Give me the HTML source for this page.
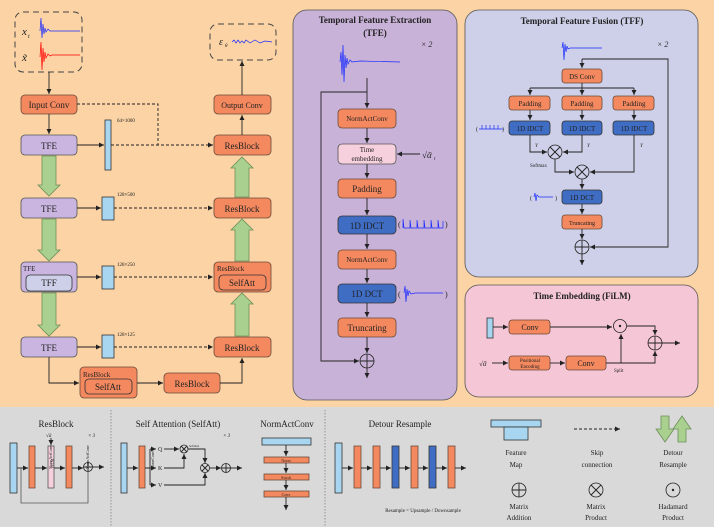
<!DOCTYPE html>
<html><head><meta charset="utf-8"><style>
html,body{margin:0;padding:0;background:#FBD3A5}
svg{display:block}
text{font-family:"Liberation Serif",serif;fill:#222}
.o{fill:#F4895F;stroke:#6b4a3a;stroke-width:.8}
.p{fill:#C9B5DF;stroke:#555;stroke-width:.8}
.b{fill:#3F6DC4;stroke:#333;stroke-width:.8}
.fm{fill:#A8D5EF;stroke:#333;stroke-width:.8}
.pk{fill:#F7D0DE;stroke:#555;stroke-width:.8}
.l{stroke:#222;stroke-width:.9;fill:none}
.d{stroke:#222;stroke-width:.9;fill:none;stroke-dasharray:3,2}
.g{fill:#A9D08E;stroke:#6d8f5a;stroke-width:.8}
.c{fill:none;stroke:#222;stroke-width:.8}
.w{fill:none;stroke:#1a2bff;stroke-width:.7}
</style></head><body>
<svg width="714" height="527" viewBox="0 0 714 527" xmlns="http://www.w3.org/2000/svg">
<defs>
<marker id="a" markerWidth="6" markerHeight="6" refX="5" refY="3" orient="auto" markerUnits="userSpaceOnUse"><path d="M0,0.5 L5,3 L0,5.5z" fill="#222"/></marker>
</defs>
<rect x="0" y="0" width="714" height="405" fill="#FBD3A5"/>
<rect x="0" y="407" width="714" height="120" fill="#D9D9D9"/>

<!-- ===== LEFT ===== -->
<rect x="15" y="12" width="67" height="60" rx="8" fill="none" stroke="#444" stroke-dasharray="6,4"/>
<text x="22" y="35" font-size="11" font-style="italic">x</text><text x="28" y="38" font-size="6" font-style="italic">t</text>
<text x="22" y="61" font-size="11" font-style="italic">x̃</text>
<path class="w" d="M40,31 L41,18 L42,38 L43,24 L44,34 L45,28 L46,32 L48,29 L50,31 L80,31"/>
<path d="M40,57 L41,42 L42,70 L43,48 L44,62 L45,52 L46,58 L48,54 L50,56 L52,55 L80,55" fill="none" stroke="#f00" stroke-width=".7"/>
<rect x="210" y="24" width="66" height="36" rx="8" fill="none" stroke="#444" stroke-dasharray="6,4"/>
<text x="219" y="45" font-size="10" font-style="italic">ε</text><text x="225" y="47" font-size="5" font-style="italic">θ</text>
<path class="w" d="M232,42 L234,40 L236,43 L238,40 L240,43 L242,41 L244,43 L246,40 L250,43 L255,40 L260,43 L265,41 L272,42" stroke-width="1.2"/>

<rect class="o" x="21" y="95" width="56" height="19" rx="4"/><text x="49" y="108" font-size="9" text-anchor="middle">Input Conv</text>
<rect class="p" x="21" y="135" width="56" height="20" rx="4"/><text x="49" y="149" font-size="9" text-anchor="middle">TFE</text>
<rect class="p" x="21" y="198" width="56" height="20" rx="4"/><text x="49" y="212" font-size="9" text-anchor="middle">TFE</text>
<rect class="p" x="21" y="262" width="56" height="30" rx="4"/><text x="23" y="271" font-size="7">TFE</text>
<rect x="26" y="275" width="46" height="16" rx="4" fill="#CDD0E8" stroke="#333" stroke-width=".8"/><text x="49" y="286" font-size="9" text-anchor="middle">TFF</text>
<rect class="p" x="21" y="337" width="56" height="20" rx="4"/><text x="49" y="351" font-size="9" text-anchor="middle">TFE</text>

<rect class="o" x="214" y="95" width="57" height="19" rx="4"/><text x="242" y="108" font-size="8" text-anchor="middle">Output Conv</text>
<rect class="o" x="214" y="135" width="57" height="20" rx="4"/><text x="242" y="149" font-size="9" text-anchor="middle">ResBlock</text>
<rect class="o" x="214" y="198" width="57" height="20" rx="4"/><text x="242" y="212" font-size="9" text-anchor="middle">ResBlock</text>
<rect class="o" x="214" y="262" width="57" height="30" rx="4"/><text x="217" y="271" font-size="7">ResBlock</text>
<rect x="219" y="275" width="47" height="15" rx="4" fill="#F4895F" stroke="#333" stroke-width=".8"/><text x="242" y="286" font-size="9" text-anchor="middle">SelfAtt</text>
<rect class="o" x="214" y="337" width="57" height="20" rx="4"/><text x="242" y="351" font-size="9" text-anchor="middle">ResBlock</text>
<rect class="o" x="80" y="367" width="57" height="31" rx="4"/><text x="83" y="377" font-size="7">ResBlock</text>
<rect x="85" y="379" width="47" height="15" rx="4" fill="#F4895F" stroke="#333" stroke-width=".8"/><text x="108" y="390" font-size="9" text-anchor="middle">SelfAtt</text>
<rect class="o" x="164" y="373" width="56" height="20" rx="4"/><text x="192" y="387" font-size="9" text-anchor="middle">ResBlock</text>

<rect class="fm" x="105" y="120" width="6" height="50"/>
<rect class="fm" x="102" y="197" width="12" height="23"/>
<rect class="fm" x="102" y="266" width="12" height="23"/>
<rect class="fm" x="102" y="335" width="12" height="23"/>
<text x="117" y="122" font-size="5">64×1000</text>
<text x="117" y="196" font-size="5">128×500</text>
<text x="117" y="266" font-size="5">128×250</text>
<text x="117" y="336" font-size="5">128×125</text>

<path class="l" d="M49,72 V94" marker-end="url(#a)"/>
<path class="l" d="M49,114 V134" marker-end="url(#a)"/>
<path class="l" d="M77,145 H104" marker-end="url(#a)"/>
<path class="l" d="M77,208 H101" marker-end="url(#a)"/>
<path class="l" d="M77,277 H101" marker-end="url(#a)"/>
<path class="l" d="M77,347 H101" marker-end="url(#a)"/>
<path class="d" d="M77,104 H158 V145"/>
<path class="d" d="M111,145 H213" marker-end="url(#a)"/>
<path class="d" d="M114,208 H213" marker-end="url(#a)"/>
<path class="d" d="M114,277 H213" marker-end="url(#a)"/>
<path class="d" d="M114,347 H213" marker-end="url(#a)"/>
<path class="l" d="M242,135 V115" marker-end="url(#a)"/>
<path class="l" d="M242,95 V61" marker-end="url(#a)"/>
<path class="l" d="M49,357 V383 H79" marker-end="url(#a)"/>
<path class="l" d="M137,383 H163" marker-end="url(#a)"/>
<path class="l" d="M220,383 H242 V358" marker-end="url(#a)"/>

<polygon class="g" points="42,156 56,156 56,185 60,185 49,196 38,185 42,185"/>
<polygon class="g" points="42,219 56,219 56,250 60,250 49,261 38,250 42,250"/>
<polygon class="g" points="42,293 56,293 56,325 60,325 49,336 38,325 42,325"/>
<polygon class="g" points="235,197 249,197 249,168 253,168 242,157 231,168 235,168"/>
<polygon class="g" points="235,261 249,261 249,230 253,230 242,219 231,230 235,230"/>
<polygon class="g" points="235,336 249,336 249,304 253,304 242,293 231,304 235,304"/>

<!-- ===== TFE panel ===== -->
<rect x="293" y="10" width="164" height="390" rx="14" fill="#C9B2D8" stroke="#555" stroke-width=".8"/>
<text x="375" y="23" font-size="9" font-weight="bold" text-anchor="middle">Temporal Feature Extraction</text>
<text x="375" y="36" font-size="9" font-weight="bold" text-anchor="middle">(TFE)</text>
<text x="421" y="47" font-size="8" font-style="italic">× 2</text>
<path class="w" d="M340,62 L341,52 L342,75 L343,45 L344,82 L345,55 L346,68 L347,58 L348,64 L350,60 L352,62 L360,61 L400,62"/>
<path class="l" d="M367,78 V108" marker-end="url(#a)"/>
<path class="l" d="M367,92 H321 V361 H359" marker-end="url(#a)"/>
<rect class="o" x="338" y="109" width="58" height="19" rx="4"/><text x="367" y="121" font-size="7" text-anchor="middle">NormActConv</text>
<rect class="pk" x="338" y="144" width="58" height="20" rx="4"/><text x="367" y="152" font-size="7" text-anchor="middle">Time</text><text x="367" y="161" font-size="7" text-anchor="middle">embedding</text>
<rect class="o" x="338" y="179" width="58" height="19" rx="4"/><text x="367" y="192" font-size="9" text-anchor="middle">Padding</text>
<rect class="b" x="338" y="216" width="58" height="18" rx="4"/><text x="367" y="229" font-size="9" text-anchor="middle">1D IDCT</text>
<rect class="o" x="338" y="250" width="58" height="19" rx="4"/><text x="367" y="262" font-size="7" text-anchor="middle">NormActConv</text>
<rect class="b" x="338" y="284" width="58" height="19" rx="4"/><text x="367" y="297" font-size="9" text-anchor="middle">1D DCT</text>
<rect class="o" x="338" y="318" width="58" height="19" rx="4"/><text x="367" y="331" font-size="9" text-anchor="middle">Truncating</text>
<path class="l" d="M367,128 V143" marker-end="url(#a)"/>
<path class="l" d="M367,164 V178" marker-end="url(#a)"/>
<path class="l" d="M367,198 V215" marker-end="url(#a)"/>
<path class="l" d="M367,234 V249" marker-end="url(#a)"/>
<path class="l" d="M367,269 V283" marker-end="url(#a)"/>
<path class="l" d="M367,303 V317" marker-end="url(#a)"/>
<path class="l" d="M367,337 V353" marker-end="url(#a)"/>
<circle class="c" cx="367" cy="361" r="7"/><path class="l" d="M360,361 H374 M367,354 V368"/>
<path class="l" d="M367,368 V378" marker-end="url(#a)"/>
<path class="l" d="M420,154 H397" marker-end="url(#a)"/>
<text x="422" y="158" font-size="9" font-style="italic">√ᾱ</text><text x="434" y="160" font-size="5" font-style="italic">t</text>
<text x="398" y="227" font-size="8">(</text><text x="445" y="227" font-size="8">)</text>
<path class="w" d="M403,228 L403,219 L404,228 L410,228 L410,220 L411,228 L417,228 L417,220 L418,228 L424,228 L424,220 L425,228 L431,228 L431,220 L432,228 L438,228 L438,220 L439,228 L443,228 L443,221"/>
<text x="398" y="297" font-size="8">(</text><text x="445" y="297" font-size="8">)</text>
<path class="w" d="M404,293 L405,286 L406,302 L407,289 L408,296 L409,291 L411,294 L415,293 L443,293"/>

<!-- ===== TFF panel ===== -->
<rect x="465" y="10" width="233" height="267" rx="14" fill="#CDD0E8" stroke="#555" stroke-width=".8"/>
<text x="582" y="24" font-size="9" font-weight="bold" text-anchor="middle">Temporal Feature Fusion (TFF)</text>
<text x="657" y="47" font-size="8" font-style="italic">× 2</text>
<path class="w" d="M562,48 L563,42 L564,60 L565,44 L566,52 L567,46 L568,49 L570,48 L602,48"/>
<path class="l" d="M582,59 V68" marker-end="url(#a)"/>
<path class="l" d="M582,59 H668 V247 H590" marker-end="url(#a)"/>
<rect class="o" x="562" y="69" width="40" height="14" rx="3"/><text x="582" y="79" font-size="7" text-anchor="middle">DS Conv</text>
<path class="l" d="M582,83 V95" marker-end="url(#a)"/>
<path class="l" d="M530,88 H634"/>
<path class="l" d="M530,88 V95" marker-end="url(#a)"/>
<path class="l" d="M634,88 V95" marker-end="url(#a)"/>
<rect class="o" x="509" y="96" width="41" height="14" rx="3"/><text x="530" y="106" font-size="7" text-anchor="middle">Padding</text>
<rect class="o" x="562" y="96" width="40" height="14" rx="3"/><text x="582" y="106" font-size="7" text-anchor="middle">Padding</text>
<rect class="o" x="613" y="96" width="41" height="14" rx="3"/><text x="634" y="106" font-size="7" text-anchor="middle">Padding</text>
<path class="l" d="M530,110 V120" marker-end="url(#a)"/>
<path class="l" d="M582,110 V120" marker-end="url(#a)"/>
<path class="l" d="M634,110 V120" marker-end="url(#a)"/>
<rect class="b" x="509" y="121" width="41" height="14" rx="3"/><text x="530" y="131" font-size="7" text-anchor="middle">1D IDCT</text>
<rect class="b" x="562" y="121" width="40" height="14" rx="3"/><text x="582" y="131" font-size="7" text-anchor="middle">1D IDCT</text>
<rect class="b" x="613" y="121" width="41" height="14" rx="3"/><text x="634" y="131" font-size="7" text-anchor="middle">1D IDCT</text>
<text x="476" y="131" font-size="6" fill="#1a2bff">(</text><text x="502" y="131" font-size="6">)</text>
<path class="w" d="M479,129 L503,129 M482,129 V125 M486,129 V125 M490,129 V125 M494,129 V125 M498,129 V125"/>
<path class="l" d="M530,135 V152 H547" marker-end="url(#a)"/>
<path class="l" d="M582,135 V152 H563" marker-end="url(#a)"/>
<circle class="c" cx="555" cy="152" r="7"/><path class="l" d="M550,147 L560,157 M560,147 L550,157"/>
<text x="535" y="147" font-size="5" font-style="italic">Y</text><text x="587" y="147" font-size="5" font-style="italic">Y</text><text x="640" y="147" font-size="5" font-style="italic">Y</text>
<text x="530" y="167" font-size="5">Softmax</text>
<path class="l" d="M555,159 V172 H574" marker-end="url(#a)"/>
<path class="l" d="M634,135 V172 H590" marker-end="url(#a)"/>
<circle class="c" cx="582" cy="172" r="7"/><path class="l" d="M577,167 L587,177 M587,167 L577,177"/>
<path class="l" d="M582,179 V189" marker-end="url(#a)"/>
<rect class="b" x="562" y="190" width="40" height="14" rx="3"/><text x="582" y="200" font-size="7" text-anchor="middle">1D DCT</text>
<text x="530" y="200" font-size="6">(</text><text x="555" y="200" font-size="6">)</text>
<path class="w" d="M534,197 L535,193 L536,201 L537,195 L539,197 L553,197"/>
<path class="l" d="M582,204 V214" marker-end="url(#a)"/>
<rect class="o" x="562" y="215" width="40" height="14" rx="3"/><text x="582" y="225" font-size="6" text-anchor="middle">Truncating</text>
<path class="l" d="M582,229 V239" marker-end="url(#a)"/>
<circle class="c" cx="582" cy="247" r="7"/><path class="l" d="M575,247 H589 M582,240 V254"/>
<path class="l" d="M582,254 V265" marker-end="url(#a)"/>

<!-- ===== Time Embedding ===== -->
<rect x="465" y="285" width="233" height="112" rx="14" fill="#F5C6D6" stroke="#555" stroke-width=".8"/>
<text x="582" y="299" font-size="9" font-weight="bold" text-anchor="middle">Time Embedding (FiLM)</text>
<rect class="fm" x="487" y="318" width="6" height="20"/>
<rect class="o" x="509" y="320" width="41" height="14" rx="3"/><text x="530" y="330" font-size="8" text-anchor="middle">Conv</text>
<rect class="o" x="509" y="356" width="41" height="14" rx="3"/><text x="530" y="362" font-size="5" text-anchor="middle">Positional</text><text x="530" y="368" font-size="5" text-anchor="middle">Encoding</text>
<rect class="o" x="566" y="356" width="40" height="14" rx="3"/><text x="586" y="366" font-size="8" text-anchor="middle">Conv</text>
<text x="479" y="366" font-size="7" font-style="italic">√ᾱ</text>
<path class="l" d="M493,327 H508" marker-end="url(#a)"/>
<path class="l" d="M492,363 H508" marker-end="url(#a)"/>
<path class="l" d="M550,327 H612" marker-end="url(#a)"/>
<path class="l" d="M550,363 H565" marker-end="url(#a)"/>
<path class="l" d="M606,363 H655 V351" marker-end="url(#a)"/>
<path class="l" d="M621,363 V334" marker-end="url(#a)"/>
<text x="614" y="372" font-size="5">Split</text>
<circle class="c" cx="620" cy="326" r="6.5"/><circle cx="620" cy="326" r="1.2" fill="#222"/>
<path class="l" d="M627,326 H655 V335" marker-end="url(#a)"/>
<circle class="c" cx="655" cy="343" r="7"/><path class="l" d="M648,343 H662 M655,336 V350"/>
<path class="l" d="M662,343 H680" marker-end="url(#a)"/>

<!-- ===== Bottom legend ===== -->
<path d="M111,410 V527 M325,410 V527" stroke="#777" stroke-width=".7" stroke-dasharray="1.5,1.5"/>
<text x="56" y="427" font-size="9" text-anchor="middle">ResBlock</text>
<text x="88" y="437" font-size="5" font-style="italic">× 3</text>
<rect class="fm" x="10" y="443" width="7" height="50"/>
<rect class="o" x="29" y="446" width="6" height="42"/>
<rect class="pk" x="48" y="446" width="6" height="42"/>
<rect class="o" x="66" y="446" width="6" height="42"/>
<text x="31" y="486" font-size="4" transform="rotate(-90 33 467)">NormActConv</text>
<text x="50" y="470" font-size="4" transform="rotate(-90 51 467)">FiLM</text>
<text x="68" y="486" font-size="4" transform="rotate(-90 70 467)">NormActConv</text>
<text x="46" y="437" font-size="5" font-style="italic">√ᾱ</text>
<path class="l" d="M51,438 V445" marker-end="url(#a)"/>
<path class="l" d="M17,468 H28" marker-end="url(#a)"/>
<path class="l" d="M35,468 H47" marker-end="url(#a)"/>
<path class="l" d="M54,468 H65" marker-end="url(#a)"/>
<path class="l" d="M72,468 H83" marker-end="url(#a)"/>
<circle class="c" cx="88" cy="467" r="4.5"/><path class="l" d="M83.5,467 H92.5 M88,462.5 V471.5"/>
<path class="l" d="M92.5,467 H104" marker-end="url(#a)"/>
<path d="M21,468 V503 H88 V472" fill="none" stroke="#555" stroke-width=".8"/>

<text x="178" y="427" font-size="9" text-anchor="middle">Self Attention (SelfAtt)</text>
<text x="223" y="437" font-size="5" font-style="italic">× 3</text>
<rect class="fm" x="121" y="443" width="6" height="50"/>
<rect class="o" x="139" y="446" width="6" height="42"/>
<text x="141" y="478" font-size="4" transform="rotate(-90 143 467)">NormConv</text>
<path class="l" d="M127,468 H138" marker-end="url(#a)"/>
<path class="l" d="M145,468 H150 M150,449 V485"/>
<path class="l" d="M150,449 H156" marker-end="url(#a)"/><text x="158" y="451" font-size="6">Q</text>
<path class="l" d="M150,468 H156" marker-end="url(#a)"/><text x="158" y="470" font-size="6">K</text>
<path class="l" d="M150,485 H156" marker-end="url(#a)"/><text x="158" y="487" font-size="6">V</text>
<path class="l" d="M164,449 H179" marker-end="url(#a)"/>
<path class="l" d="M164,468 H184 V454" marker-end="url(#a)"/>
<circle class="c" cx="184" cy="449" r="4"/><path class="l" d="M181,446 L187,452 M187,446 L181,452"/>
<text x="189" y="447" font-size="3">Softmax</text>
<path class="l" d="M188,449 H205 V463" marker-end="url(#a)"/>
<path class="l" d="M164,485 H205 V473" marker-end="url(#a)"/>
<circle class="c" cx="205" cy="468" r="4.5"/><path class="l" d="M202,465 L208,471 M208,465 L202,471"/>
<path class="l" d="M209.5,468 H221" marker-end="url(#a)"/>
<circle class="c" cx="226" cy="468" r="4.5"/><path class="l" d="M221.5,468 H230.5 M226,463.5 V472.5"/>
<path class="l" d="M230.5,468 H242" marker-end="url(#a)"/>

<text x="287" y="427" font-size="9" text-anchor="middle">NormActConv</text>
<rect class="fm" x="262" y="438" width="49" height="7"/>
<rect class="o" x="264" y="457" width="45" height="6"/><text x="286" y="462" font-size="4" text-anchor="middle">Norm</text>
<rect class="o" x="264" y="474" width="45" height="6"/><text x="286" y="479" font-size="4" text-anchor="middle">Swish</text>
<rect class="o" x="264" y="491" width="45" height="6"/><text x="286" y="496" font-size="4" text-anchor="middle">Conv</text>
<path class="l" d="M286,445 V456" marker-end="url(#a)"/>
<path class="l" d="M286,463 V473" marker-end="url(#a)"/>
<path class="l" d="M286,480 V490" marker-end="url(#a)"/>
<path class="l" d="M286,497 V510" marker-end="url(#a)"/>

<text x="400" y="427" font-size="9" text-anchor="middle">Detour Resample</text>
<rect class="fm" x="335" y="443" width="7" height="50"/>
<rect class="o" x="354" y="446" width="7" height="42"/>
<rect class="o" x="373" y="446" width="7" height="42"/>
<rect class="b" x="392" y="446" width="7" height="42"/>
<rect class="o" x="411" y="446" width="7" height="42"/>
<rect class="b" x="429" y="446" width="7" height="42"/>
<rect class="o" x="448" y="446" width="7" height="42"/>
<path class="l" d="M342,468 H353" marker-end="url(#a)"/>
<path class="l" d="M361,468 H372" marker-end="url(#a)"/>
<path class="l" d="M380,468 H391" marker-end="url(#a)"/>
<path class="l" d="M399,468 H410" marker-end="url(#a)"/>
<path class="l" d="M418,468 H428" marker-end="url(#a)"/>
<path class="l" d="M436,468 H447" marker-end="url(#a)"/>
<path class="l" d="M455,468 H466" marker-end="url(#a)"/>
<text x="423" y="512" font-size="5" text-anchor="middle">Resample = Upsample / Downsample</text>

<rect class="fm" x="491" y="420" width="50" height="7"/>
<rect class="fm" x="504" y="427" width="24" height="13"/>
<text x="516" y="455" font-size="7" text-anchor="middle">Feature</text><text x="516" y="467" font-size="7" text-anchor="middle">Map</text>
<path class="d" d="M574,429 H620" marker-end="url(#a)"/>
<text x="597" y="455" font-size="7" text-anchor="middle">Skip</text><text x="597" y="467" font-size="7" text-anchor="middle">connection</text>
<polygon class="g" points="661,416 669,416 669,429 674,429 665,442 656,429 661,429"/>
<polygon class="g" points="678,442 686,442 686,429 691,429 682,416 673,429 678,429"/>
<text x="673" y="455" font-size="7" text-anchor="middle">Detour</text><text x="673" y="467" font-size="7" text-anchor="middle">Resample</text>
<circle class="c" cx="519" cy="490" r="7"/><path class="l" d="M512,490 H526 M519,483 V497"/>
<text x="519" y="509" font-size="7" text-anchor="middle">Matrix</text><text x="519" y="520" font-size="7" text-anchor="middle">Addition</text>
<circle class="c" cx="596" cy="490" r="7"/><path class="l" d="M591,485 L601,495 M601,485 L591,495"/>
<text x="596" y="509" font-size="7" text-anchor="middle">Matrix</text><text x="596" y="520" font-size="7" text-anchor="middle">Product</text>
<circle class="c" cx="673" cy="490" r="7"/><circle cx="673" cy="490" r="1.2" fill="#222"/>
<text x="673" y="509" font-size="7" text-anchor="middle">Hadamard</text><text x="673" y="520" font-size="7" text-anchor="middle">Product</text>
</svg>
</body></html>
